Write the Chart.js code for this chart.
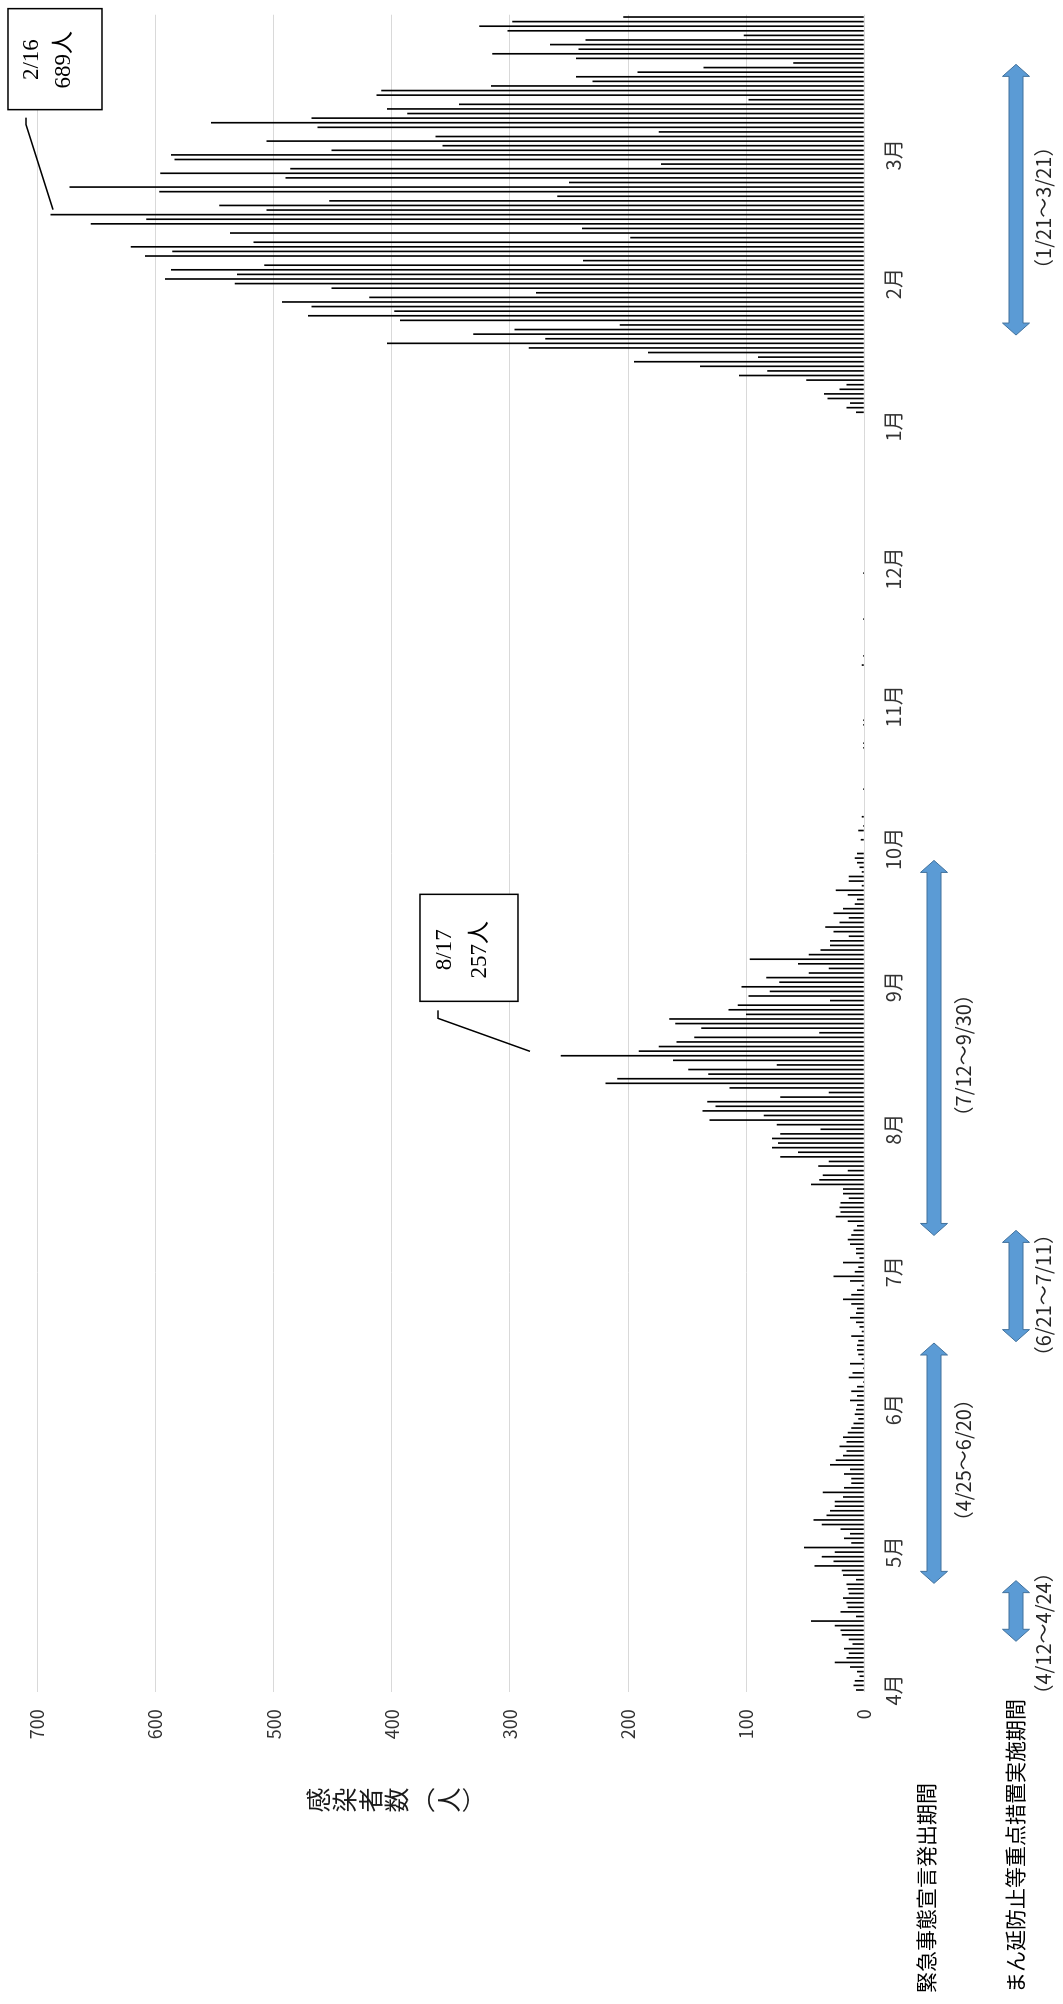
<!DOCTYPE html>
<html lang="ja">
<head>
<meta charset="utf-8">
<title>感染者数の推移</title>
<script src="https://cdn.jsdelivr.net/npm/chart.js@4.4.1/dist/chart.umd.min.js"></script>
<style>
  html, body { margin: 0; padding: 0; background: #fff; width: 1063px; height: 2004px; overflow: hidden; }
  /* the chart is laid out landscape and turned a quarter turn for the portrait page */
  #wrap { position: absolute; left: 0; top: 0; width: 2004px; height: 1063px;
          transform-origin: 0 0; transform: translateY(2004px) rotate(-90deg); }
  canvas { display: block; }
</style>
</head>
<body>
<div id="wrap"><canvas id="c" width="2004" height="1063"></canvas></div>
<script>
// Daily new cases, 2021-04-01 .. 2022-03-31
const apr = [7,9,8,4,6,12,25,15,13,17,10,13,19,20,25,45,7,20,14,15,18,13,14,15,7,18,19,42,26,36];
const may = [25,51,11,17,12,20,36,43,32,29,25,25,18,35,17,11,11,17,12,29,24,18,15,21,15,18,14,11,9,5,8];
const jun = [7,6,12,6,11,6,1,13,10,1,12,2,5,6,6,5,11,2,4,7,12,7,6,11,18,11,6,2,12,26];
const jul = [8,5,18,4,7,7,12,14,11,9,6,14,24,20,21,20,13,18,18,45,38,35,14,39,30,71,56,78,73,78,71];
const aug = [37,74,131,85,137,126,133,71,30,114,219,209,132,149,74,162,257,191,174,159,144,38,138,160,165,100,115,107,29,98,80];
const sep = [104,72,83,47,30,56,97,47,37,29,29,13,26,33,21,13,26,18,8,6,14,24,2,13,13,2,4,6,8,6];
const oct = [0,0,3,0,5,1,0,2,0,0,0,0,0,1,0,0,0,0,0,0,0,0,1,1,0,0,0,1,1,0,0];
const nov = [0,0,0,0,0,0,0,0,0,2,0,1,0,0,0,0,0,0,0,1,0,0,0,0,0,0,0,0,0,1];
const dec = [0,0,0,0,0,0,0,0,0,0,0,0,0,0,0,0,0,0,0,0,0,0,0,0,0,0,0,0,0,0,0];
const jan = [0,0,0,7,15,12,31,34,21,15,49,106,82,139,195,90,183,284,404,270,331,296,207,393,471,398,468,493,419,278,451];
const feb = [533,592,531,587,508,238,609,586,621,517,198,537,239,655,608,689,506,546,453,260,597,673,250,490,596,486,172,584];
const mar = [587,451,357,506,363,174,463,553,468,387,404,343,98,413,409,316,230,244,192,136,60,244,315,242,266,236,102,302,326,298,204];

const monthNumbers = [4,5,6,7,8,9,10,11,12,1,2,3];
const monthSeries = [apr, may, jun, jul, aug, sep, oct, nov, dec, jan, feb, mar];

// value axis
const valueTicks = [0,100,200,300,400,500,600,700];

// periods of measures (positions in day units along the date axis)
const periodNames = ['緊急事態宣言発出期間', 'まん延防止等重点措置実施期間'];
const periodText  = ['（4/12～4/24）', '（4/25～6/20）', '（6/21～7/11）', '（7/12～9/30）', '（1/21～3/21）'];
const periodKind  = [1, 0, 1, 0, 1];
const periodFrom  = [10.6, 23.2, 75.8, 98.9, 294.8];
const periodTo    = [23.8, 75.5, 100.0, 180.5, 353.7];
const periodMid   = [12.3, 50.0, 85.9, 138.1, 322.5];

// peak call-outs
const calloutDays  = ['2/16', '8/17'];
const calloutLines = [['2/16', '689人'], ['8/17', '257人']];

const dayLabels = [];
const dayValues = [];
monthSeries.forEach((arr, mi) => {
  arr.forEach((v, di) => {
    dayLabels.push(monthNumbers[mi] + '/' + (di + 1));
    dayValues.push(v);
  });
});

const FONT = "'Noto Sans CJK JP', 'Noto Sans', sans-serif";
const SERIF = "'Liberation Serif', 'DejaVu Serif', 'Noto Sans CJK JP', serif";

// layout of the call-out boxes relative to the end of their bar
const calloutGeom = [
  { box: [105, 206, -42.5, 51.5], path: [[97, -24.5], [90, -24.5], [5, 2.5]], tx: 155, ty: [-18.5, 13.5] },
  { box: [54.4, 161.4, -140.7, -42.7], path: [[45.4, -122.7], [37.4, -122.7], [4.4, -30.7]], tx: 106, ty: [-115.7, -80.7] }
];

function blockArrow(ctx, a, b, y) {
  const hl = 12, hw = 13.5, sw = 7;
  ctx.beginPath();
  ctx.moveTo(a, y);
  ctx.lineTo(a + hl, y - hw);
  ctx.lineTo(a + hl, y - sw);
  ctx.lineTo(b - hl, y - sw);
  ctx.lineTo(b - hl, y - hw);
  ctx.lineTo(b, y);
  ctx.lineTo(b - hl, y + hw);
  ctx.lineTo(b - hl, y + sw);
  ctx.lineTo(a + hl, y + sw);
  ctx.lineTo(a + hl, y + hw);
  ctx.closePath();
  ctx.fillStyle = '#5B9BD5';
  ctx.fill();
  ctx.strokeStyle = '#41719C';
  ctx.lineWidth = 1;
  ctx.stroke();
}

const overlay = {
  id: 'overlay',
  afterDraw(chart) {
    const ctx = chart.ctx;
    const xs = chart.scales.x, ys = chart.scales.y;
    ctx.save();

    // axis title, written top to bottom
    const title = ['感', '染', '者', '数', '︵', '人', '︶'];
    ctx.font = '25px ' + FONT;
    ctx.fillStyle = '#1a1a1a';
    ctx.textAlign = 'center';
    ctx.textBaseline = 'middle';
    title.forEach((ch, i) => ctx.fillText(ch, 204, 318 + i * 26));

    // row captions
    const rowY = [934, 1016];
    const rowTextY = [963, 1043];
    ctx.font = '21px ' + FONT;
    ctx.fillStyle = '#000';
    ctx.textAlign = 'left';
    periodNames.forEach((t, i) => ctx.fillText(t, 11, rowY[i] - (i === 0 ? 8 : 1)));

    // period arrows and their dates
    periodText.forEach((t, i) => {
      const a = xs.getPixelForValue(periodFrom[i]);
      const b = xs.getPixelForValue(periodTo[i]);
      blockArrow(ctx, a, b, rowY[periodKind[i]]);
      ctx.font = '20px ' + FONT;
      ctx.fillStyle = '#262626';
      ctx.textAlign = 'center';
      ctx.fillText(t, xs.getPixelForValue(periodMid[i]), rowTextY[periodKind[i]]);
    });

    // call-outs for the two peaks
    calloutDays.forEach((d, i) => {
      const idx = dayLabels.indexOf(d);
      const px = xs.getPixelForValue(idx);
      const py = ys.getPixelForValue(dayValues[idx]);
      const g = calloutGeom[i];
      ctx.strokeStyle = '#000';
      ctx.lineWidth = 1.5;
      ctx.beginPath();
      g.path.forEach((p, k) => {
        if (k === 0) ctx.moveTo(px + p[0], py + p[1]);
        else ctx.lineTo(px + p[0], py + p[1]);
      });
      ctx.stroke();
      const x0 = px + g.box[0], x1 = px + g.box[1], y0 = py + g.box[2], y1 = py + g.box[3];
      ctx.fillStyle = '#fff';
      ctx.fillRect(x0, y0, x1 - x0, y1 - y0);
      ctx.strokeRect(x0, y0, x1 - x0, y1 - y0);
      ctx.font = '23px ' + SERIF;
      ctx.fillStyle = '#000';
      ctx.textAlign = 'center';
      ctx.textBaseline = 'middle';
      calloutLines[i].forEach((t, k) => ctx.fillText(t, px + g.tx, py + g.ty[k]));
    });

    ctx.restore();
  }
};

new Chart(document.getElementById('c'), {
  type: 'bar',
  data: {
    labels: dayLabels,
    datasets: [{
      data: dayValues,
      backgroundColor: '#000',
      borderWidth: 0,
      barPercentage: 0.36,
      categoryPercentage: 1.0
    }]
  },
  options: {
    responsive: false,
    animation: false,
    devicePixelRatio: 1,
    layout: { padding: { left: 0, right: 6, top: 37.5, bottom: 0 } },
    plugins: { legend: { display: false }, tooltip: { enabled: false } },
    scales: {
      x: {
        type: 'category',
        offset: true,
        grid: { display: false, drawTicks: false },
        border: { display: false },
        ticks: {
          autoSkip: false, maxRotation: 0, minRotation: 0, padding: 17,
          color: '#333', font: { family: FONT, size: 20 },
          callback(v) {
            const parts = this.getLabelForValue(v).split('/');
            return parts[1] === '1' ? parts[0] + '月' : '';
          }
        },
        afterFit(s) { s.height = 198.8; }
      },
      y: {
        min: valueTicks[0],
        max: valueTicks[valueTicks.length - 1],
        afterBuildTicks(s) { s.ticks = valueTicks.map(v => ({ value: v })); },
        grid: { color: '#d9d9d9', lineWidth: 1, drawTicks: false },
        border: { display: false },
        ticks: { padding: 17, color: '#333', font: { family: FONT, size: 18 } },
        afterFit(s) { s.width = 311.7; }
      }
    }
  },
  plugins: [overlay]
});
</script>
</body>
</html>
